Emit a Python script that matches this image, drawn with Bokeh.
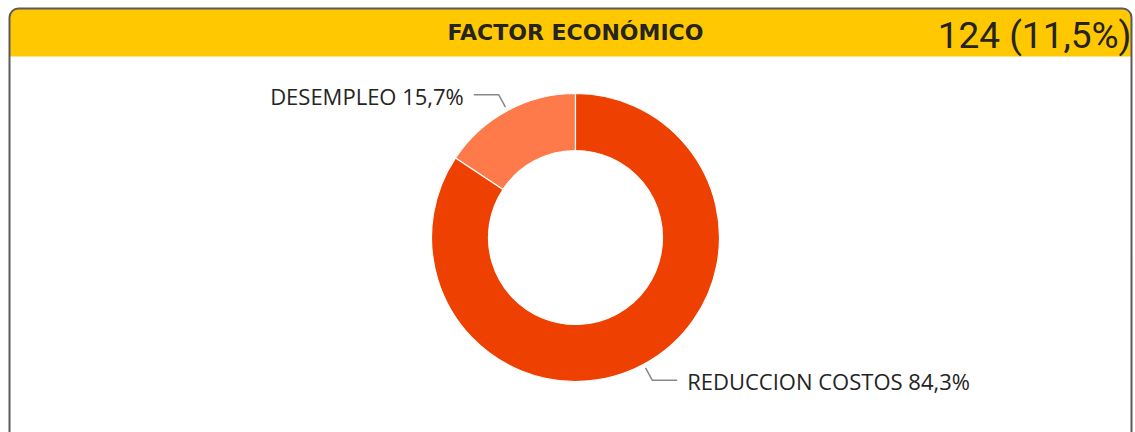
import math
from bokeh.plotting import figure
from bokeh.models import Range1d, ColumnDataSource
from bokeh.core.properties import value
from bokeh.embed import file_html
from bokeh.resources import INLINE

# ---- data ----
categories = ["DESEMPLEO", "REDUCCION COSTOS"]
percentages = [15.7, 84.3]
pct_labels = ["15,7%", "84,3%"]
title_text = "FACTOR ECONÓMICO"
kpi_text = "124 (11,5%)"
colors = ["#FF7A4B", "#EE4000"]

W, H = 1135, 432
p = figure(width=W, height=H, x_range=Range1d(0, W), y_range=Range1d(H, 0),
           output_backend="svg", toolbar_location=None, min_border=0)
p.axis.visible = False
p.grid.visible = False
p.outline_line_color = None
p.background_fill_color = "white"
p.border_fill_color = "white"

L, R, T = 9, 1131, 8
# card background
p.quad(left=L, right=R, top=T, bottom=H + 30, fill_color="white",
       line_color=None, border_radius=9)
# header band
p.quad(left=L, right=R, top=T, bottom=56, fill_color="#FFC800",
       line_color=None, border_radius={"top_left": 9, "top_right": 9,
                                       "bottom_right": 0, "bottom_left": 0})
# card outline
p.quad(left=L, right=R, top=T, bottom=H + 30, fill_color=None,
       line_color="#5a5a5a", line_width=2, border_radius=9)

# header texts
p.text(x=[575], y=[32], text=[title_text], text_align="center",
       text_baseline="middle", text_font=value("DejaVu Sans"),
       text_font_style="bold", text_font_size="22px", text_color="#252423")
p.text(x=[1131], y=[35], text=[kpi_text], text_align="right",
       text_baseline="middle", text_font=value("Roboto"),
       text_font_size="37px", text_color="#252423")

# donut
cx, cy = 575, 237
r_out, r_in = 144, 87
total = sum(percentages)
starts, ends = [], []
acc = 0.0
for v in percentages:
    a0 = math.pi / 2 + 2 * math.pi * acc / total
    acc += v
    a1 = math.pi / 2 + 2 * math.pi * acc / total
    starts.append(a0)
    ends.append(a1)

src = ColumnDataSource(dict(x=[cx] * len(percentages), y=[cy] * len(percentages),
                            start=starts, end=ends, color=colors))
p.annular_wedge(x="x", y="y", inner_radius=r_in, outer_radius=r_out,
                inner_radius_units="screen", outer_radius_units="screen",
                start_angle="start", end_angle="end", fill_color="color",
                line_color="white", line_width=1.2, source=src)

# leader lines and labels
for cat, lab, a0, a1 in zip(categories, pct_labels, starts, ends):
    mid = (a0 + a1) / 2
    dx, dy = math.cos(mid), -math.sin(mid)  # screen y flipped
    sx, sy = cx + (r_out + 4) * dx, cy + (r_out + 4) * dy
    ex, ey = cx + (r_out + 18) * dx, cy + (r_out + 18) * dy
    side = 1 if dx > 0 else -1
    hx = ex + side * 25
    p.line(x=[sx, ex, hx], y=[sy, ey, ey], line_color="#888888", line_width=1.5)
    p.text(x=[hx + side * 10], y=[ey + 1], text=[f"{cat} {lab}"],
           text_align="left" if side > 0 else "right", text_baseline="middle",
           text_font=value("Open Sans"), text_font_size="22px",
           text_color="#252423")

open("out.html", "w").write(file_html(p, INLINE))
